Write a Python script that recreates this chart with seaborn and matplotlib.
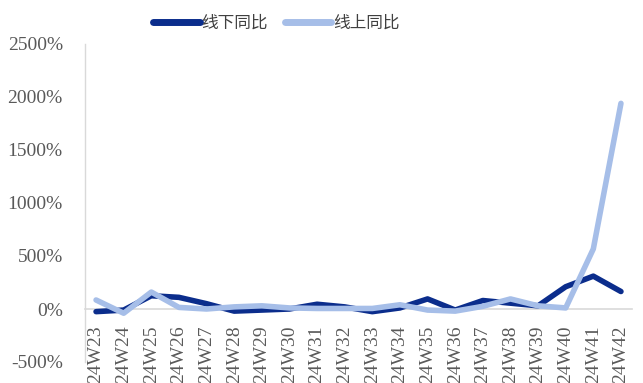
import numpy as np
import pandas as pd
import matplotlib
matplotlib.use("Agg")
import matplotlib.pyplot as plt
import seaborn as sns

weeks = [f"24W{n}" for n in range(23, 43)]
offline_yoy = [-25, -10, 125, 110, 50, -20, -10, 0, 45, 20,
               -25, 10, 95, -10, 80, 55, 30, 210, 310, 165]
online_yoy = [85, -40, 160, 15, 0, 20, 30, 10, 5, 5,
              5, 40, -10, -20, 25, 95, 30, 10, 567, 1940]
series_names = ["线下同比", "线上同比"]
series_colors = ["#0b2d8c", "#a6bee8"]
y_ticks = [-500, 0, 500, 1000, 1500, 2000, 2500]

df = pd.DataFrame({
    "week": weeks * 2,
    "pos": list(range(len(weeks))) * 2,
    "value": offline_yoy + online_yoy,
    "series": [series_names[0]] * len(weeks) + [series_names[1]] * len(weeks),
})

sns.set_theme(style="white")
plt.rcParams["font.family"] = ["Liberation Serif", "Noto Sans CJK SC"]

fig = plt.figure(figsize=(6.43, 3.83), dpi=100)
ax = fig.add_axes([85 / 643, 1 - 362 / 383, (632 - 85) / 643, (362 - 44) / 383])

sns.lineplot(data=df, x="pos", y="value", hue="series", hue_order=series_names,
             palette=series_colors, linewidth=4.0, ax=ax, legend=True,
             solid_capstyle="round", solid_joinstyle="round", sort=False)

# category axis crosses the value axis at 0%
for side in ["top", "right"]:
    ax.spines[side].set_visible(False)
ax.spines["bottom"].set_position(("data", 0))
ax.spines["bottom"].set_color("#d9d9d9")
ax.spines["bottom"].set_linewidth(1.2)
ax.spines["bottom"].set_zorder(0)
ax.spines["left"].set_color("#d9d9d9")
ax.spines["left"].set_linewidth(1)

ax.set_xlim(-0.4, len(weeks) - 0.6)
ax.set_ylim(-500, 2500)
ax.set_yticks(y_ticks)
ax.set_yticklabels([f"{v}%" for v in y_ticks])
ax.set_xticks(range(len(weeks)))
ax.set_xticklabels(weeks, rotation=90, va="top", ha="center")
ax.tick_params(axis="both", length=0, labelsize=14, labelcolor="#595959")
ax.tick_params(axis="x", pad=12)
ax.tick_params(axis="y", pad=16)
ax.set_xlabel("")
ax.set_ylabel("")

handles, labels = ax.get_legend_handles_labels()
leg = ax.legend(handles, labels, loc="upper center", bbox_to_anchor=(0.35, 1.14),
                ncol=2, frameon=False, handlelength=2.8,
                handletextpad=0.1, columnspacing=1.0,
                prop={"family": ["Noto Sans CJK SC"], "size": 12})
for t in leg.get_texts():
    t.set_color("#404040")
for h in leg.get_lines():
    h.set_linewidth(5)
    h.set_solid_capstyle("round")

fig.savefig("out.png", dpi=100)
